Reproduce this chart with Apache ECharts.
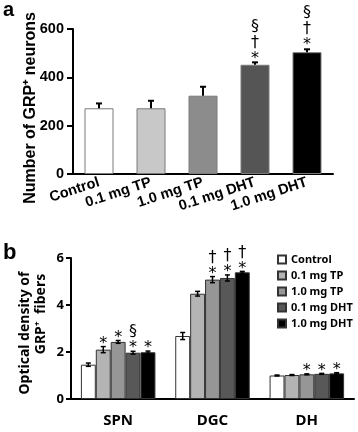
<!DOCTYPE html>
<html>
<head>
<meta charset="utf-8">
<script src="https://cdn.jsdelivr.net/npm/echarts@6/dist/echarts.min.js"></script>
<style>
  html, body { margin: 0; padding: 0; background: #fff; }
  #chart { width: 358px; height: 432px; }
</style>
</head>
<body>
<div id="chart"></div>
<script>
// treatment groups
var groups = ["Control", "0.1 mg TP", "1.0 mg TP", "0.1 mg DHT", "1.0 mg DHT"];

// panel a: number of GRP+ neurons
var neuronMean = [272, 272, 324, 452, 504];
var neuronErr = [20, 31, 37, 10, 12];
var neuronSig = ["", "", "", "§\n†\n*", "§\n†\n*"];

// panel b: optical density, one row per treatment, columns = regions
var regions = ["SPN", "DGC", "DH"];
var densityMean = [
  [1.46, 2.68, 1.00],
  [2.10, 4.48, 1.02],
  [2.43, 5.08, 1.05],
  [1.97, 5.15, 1.07],
  [1.99, 5.39, 1.09]
];
var densityErr = [
  [0.07, 0.15, 0.02],
  [0.13, 0.10, 0.02],
  [0.06, 0.13, 0.02],
  [0.06, 0.13, 0.02],
  [0.05, 0.04, 0.03]
];
var densitySig = [
  ["", "", ""],
  ["*", "", ""],
  ["*", "†\n*", "*"],
  ["§\n*", "†\n*", "*"],
  ["*", "†\n*", "*"]
];

var topColors = ["#ffffff", "#c8c8c8", "#8c8c8c", "#555555", "#000000"];
var botColors = ["#ffffff", "#b4b4b4", "#969696", "#585858", "#000000"];

var arial = "Liberation Sans";
var calib = "Noto Sans";
var groupShare = 0.79; // 1 - barCategoryGap

var chart = echarts.init(document.getElementById("chart"));

function sigText(x, y, txt) {
  return {
    type: "text", x: x, y: y,
    style: {
      text: txt, textAlign: "center", textVerticalAlign: "bottom",
      font: "16px DejaVu Sans", lineHeight: 16, fill: "#000"
    }
  };
}

function topErrorBar(params, api) {
  var i = api.value(0);
  var base = api.coord([i, api.value(1)]);
  var hi = api.coord([i, api.value(1) + api.value(2)]);
  var children = [
    { type: "line", shape: { x1: base[0], y1: base[1], x2: hi[0], y2: hi[1] }, style: { stroke: "#000", lineWidth: 2 } },
    { type: "line", shape: { x1: hi[0] - 3, y1: hi[1], x2: hi[0] + 3, y2: hi[1] }, style: { stroke: "#000", lineWidth: 2 } }
  ];
  if (neuronSig[i]) children.push(sigText(hi[0], hi[1] + 4, neuronSig[i]));
  return { type: "group", children: children };
}

function botErrorBar(params, api) {
  var r = api.value(0), t = api.value(1);
  var m = api.value(2), e = api.value(3);
  var bw = api.size([1, 0])[0] * groupShare / groups.length;
  var x = api.coord([r, 0])[0] + (t - (groups.length - 1) / 2) * bw;
  var yHi = api.coord([r, m + e])[1];
  var yLo = api.coord([r, m - e])[1];
  var st = { stroke: "#000", lineWidth: 1.5 };
  var children = [
    { type: "line", shape: { x1: x, y1: yLo, x2: x, y2: yHi }, style: st },
    { type: "line", shape: { x1: x - 2.5, y1: yHi, x2: x + 2.5, y2: yHi }, style: st },
    { type: "line", shape: { x1: x - 2.5, y1: yLo, x2: x + 2.5, y2: yLo }, style: st }
  ];
  var s = densitySig[t][r];
  if (s) children.push(sigText(x, yHi + 5, s));
  return { type: "group", children: children };
}

var topErrData = neuronMean.map(function (v, i) { return [i, v, neuronErr[i]]; });
var botErrData = [];
densityMean.forEach(function (row, t) {
  row.forEach(function (v, r) { botErrData.push([r, t, v, densityErr[t][r]]); });
});

var series = [
  {
    type: "bar", xAxisIndex: 0, yAxisIndex: 0, barWidth: 29,
    data: neuronMean.map(function (v, i) {
      return { value: v, itemStyle: { color: topColors[i], borderColor: "#7a7a7a", borderWidth: 1 } };
    })
  },
  { type: "custom", xAxisIndex: 0, yAxisIndex: 0, z: 5, renderItem: topErrorBar, data: topErrData }
];

groups.forEach(function (g, t) {
  series.push({
    type: "bar", name: g, xAxisIndex: 1, yAxisIndex: 1,
    barGap: "0%", barCategoryGap: "21%",
    itemStyle: { color: botColors[t], borderColor: "#333", borderWidth: 1 },
    data: densityMean[t]
  });
});
series.push({ type: "custom", xAxisIndex: 1, yAxisIndex: 1, z: 5, renderItem: botErrorBar, data: botErrData });

var axisLineStyle = { show: true, lineStyle: { color: "#000", width: 2 } };

var option = {
  animation: false,
  backgroundColor: "#fff",
  grid: [
    { left: 73, right: 25, top: 29, height: 145 },
    { left: 71, right: 4, top: 258, height: 141 }
  ],
  legend: {
    data: groups, orient: "vertical", left: 272, top: 249,
    icon: "rect", itemWidth: 8, itemHeight: 8, itemGap: 5, itemTextGap: 3,
    textStyle: { color: "#000", fontFamily: calib, fontWeight: "bold", fontSize: 11 }
  },
  xAxis: [
    {
      type: "category", gridIndex: 0, data: groups,
      axisLine: axisLineStyle, axisTick: { show: false },
      axisLabel: { interval: 0, rotate: 18, margin: 8, color: "#000", fontFamily: arial, fontWeight: "bold", fontSize: 14.5 }
    },
    {
      type: "category", gridIndex: 1, data: regions,
      axisLine: axisLineStyle, axisTick: { show: false },
      axisLabel: { margin: 14, color: "#000", fontFamily: calib, fontWeight: "bold", fontSize: 15 }
    }
  ],
  yAxis: [
    {
      type: "value", gridIndex: 0, min: 0, max: 600, interval: 200,
      axisLine: axisLineStyle, axisTick: { show: true, length: 6, lineStyle: { color: "#000", width: 2 } },
      splitLine: { show: false },
      axisLabel: { margin: 9, color: "#000", fontFamily: arial, fontWeight: "bold", fontSize: 14.5 }
    },
    {
      type: "value", gridIndex: 1, min: 0, max: 6, interval: 2,
      axisLine: axisLineStyle, axisTick: { show: true, length: 5, lineStyle: { color: "#000", width: 2 } },
      splitLine: { show: false },
      axisLabel: { margin: 7, color: "#000", fontFamily: calib, fontWeight: "bold", fontSize: 13 }
    }
  ],
  graphic: [
    { type: "text", left: 3, top: 0, style: { text: "a", font: "bold 20px Liberation Sans", fill: "#000" } },
    { type: "text", left: 3, top: 242, style: { text: "b", font: "bold 22px Liberation Sans", fill: "#000" } },
    { type: "text", x: 31, y: 108, rotation: Math.PI / 2,
      style: { text: "Number of GRP⁺ neurons", textAlign: "center", textVerticalAlign: "middle", font: "bold 16px Liberation Sans", fill: "#000" } },
    { type: "text", x: 25, y: 333, rotation: Math.PI / 2,
      style: { text: "Optical density of", textAlign: "center", textVerticalAlign: "middle", font: "bold 14px Noto Sans", fill: "#000" } },
    { type: "text", x: 41, y: 314, rotation: Math.PI / 2,
      style: { text: "GRP⁺  fibers", textAlign: "center", textVerticalAlign: "middle", font: "bold 14px Noto Sans", fill: "#000" } }
  ],
  series: series
};

chart.setOption(option);
</script>
</body>
</html>
